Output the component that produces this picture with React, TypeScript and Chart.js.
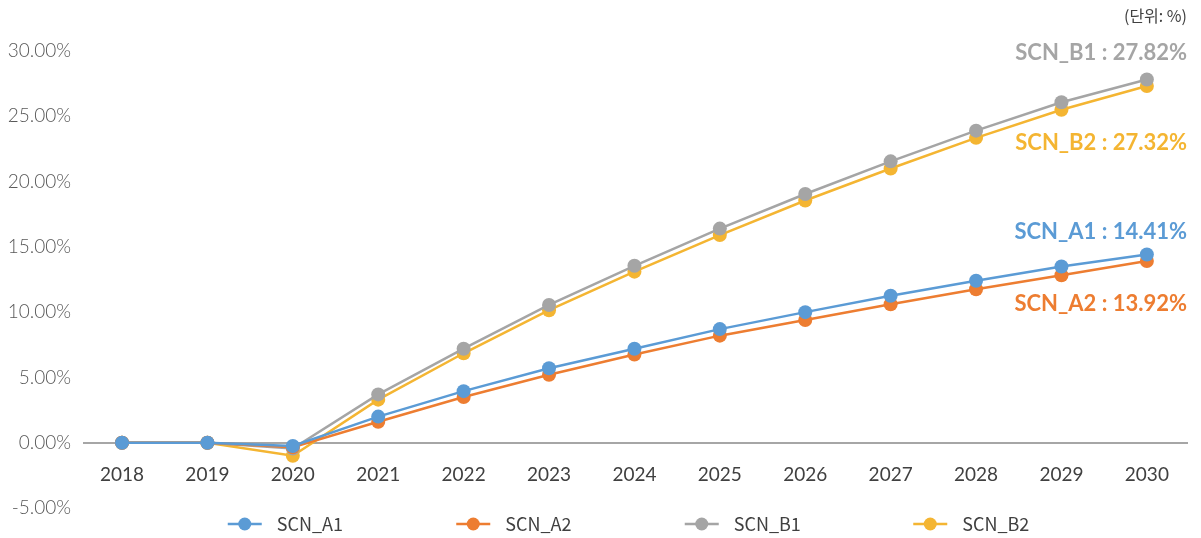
import { useEffect, useRef } from "react";
import { Chart, registerables } from "chart.js";

Chart.register(...registerables);

// Cumulative change by scenario (%), 2018–2030
const years = ["2018", "2019", "2020", "2021", "2022", "2023", "2024", "2025", "2026", "2027", "2028", "2029", "2030"];
const scnA1 = [0, 0, -0.25, 2.0, 3.95, 5.7, 7.2, 8.7, 10.0, 11.25, 12.4, 13.5, 14.41];
const scnA2 = [0, 0, -0.35, 1.6, 3.5, 5.2, 6.75, 8.2, 9.4, 10.6, 11.75, 12.83, 13.92];
const scnB1 = [0, 0, -0.45, 3.7, 7.2, 10.55, 13.55, 16.4, 19.05, 21.55, 23.9, 26.07, 27.82];
const scnB2 = [0, 0, -1.0, 3.3, 6.85, 10.15, 13.1, 15.9, 18.55, 21.0, 23.35, 25.5, 27.32];

const seriesNames = ["SCN_A1", "SCN_A2", "SCN_B1", "SCN_B2"];
const seriesColors = ["#5B9BD5", "#ED7D31", "#A5A5A5", "#F4B532"];
const seriesValues = [scnA1, scnA2, scnB1, scnB2];

const unitLabel = "(단위: %)";

// Right-side end-value callouts: series index and its vertical position
const calloutOrder = [2, 3, 0, 1];
const calloutY = [53, 143, 232, 304];

const W = 1201;
const H = 538;

const overlayPlugin = {
  id: "overlay",
  afterDraw(chart: Chart) {
    const ctx = chart.ctx;
    const area = chart.chartArea;
    ctx.save();

    // unit note
    ctx.font = '16px "Noto Sans CJK KR", Lato, sans-serif';
    ctx.fillStyle = "#404040";
    ctx.textAlign = "right";
    ctx.textBaseline = "middle";
    ctx.fillText(unitLabel, W - 14, 16);

    // end-value callouts
    ctx.font = 'bold 22px Lato, sans-serif';
    calloutOrder.forEach((si, k) => {
      const vals = seriesValues[si];
      const last = vals[vals.length - 1];
      ctx.fillStyle = seriesColors[si];
      ctx.fillText(`${seriesNames[si]} : ${last.toFixed(2)}%`, W - 14, calloutY[k]);
    });

    // legend
    const pitch = 228.5;
    const itemW = 118;
    const total = pitch * (seriesNames.length - 1) + itemW;
    const cx = (area.left + area.right) / 2;
    const x0 = cx - total / 2 - 6;
    const ly = 524;
    ctx.font = '18px "Noto Sans CJK KR", sans-serif';
    ctx.textAlign = "left";
    seriesNames.forEach((name, i) => {
      const x = x0 + i * pitch;
      ctx.strokeStyle = seriesColors[i];
      ctx.lineWidth = 2.5;
      ctx.beginPath();
      ctx.moveTo(x, ly);
      ctx.lineTo(x + 34, ly);
      ctx.stroke();
      ctx.fillStyle = seriesColors[i];
      ctx.beginPath();
      ctx.arc(x + 17, ly, 6.5, 0, Math.PI * 2);
      ctx.fill();
      ctx.fillStyle = "#404040";
      ctx.fillText(name, x + 49, ly);
    });

    ctx.restore();
  },
};

export default function App() {
  const canvasRef = useRef<HTMLCanvasElement | null>(null);

  useEffect(() => {
    document.body.style.margin = "0";
    const canvas = canvasRef.current;
    if (!canvas) return;

    const yearNums = years.map((y) => Number(y));

    const chart = new Chart(canvas, {
      type: "line",
      data: {
        datasets: seriesNames.map((name, i) => ({
          label: name,
          data: yearNums.map((x, k) => ({ x, y: seriesValues[i][k] })),
          borderColor: seriesColors[i],
          backgroundColor: seriesColors[i],
          borderWidth: 2.5,
          pointRadius: 7,
          pointHoverRadius: 7,
          pointBorderWidth: 0,
          tension: 0,
        })),
      },
      options: {
        responsive: false,
        animation: false,
        layout: { padding: { left: 8, right: 14, top: 51, bottom: 30 } },
        plugins: {
          legend: { display: false },
          tooltip: { enabled: false },
        },
        scales: {
          x: {
            type: "linear",
            bounds: "data",
            min: yearNums[0] - 0.445,
            max: yearNums[yearNums.length - 1] + 0.47,
            position: { y: 0 } as any,
            grid: { display: false, drawTicks: false },
            border: { display: true, color: "#A6A6A6", width: 2 },
            ticks: {
              color: "#404040",
              font: { family: "Lato", size: 19 },
              padding: 21,
              maxRotation: 0,
              autoSkip: false,
              callback: (v: any) => String(v),
            },
            afterBuildTicks(scale: any) {
              scale.ticks = yearNums.map((value) => ({ value }));
            },
            afterFit(scale: any) {
              scale.height = 0;
            },
          },
          y: {
            min: -5,
            max: 30,
            grid: { display: false, drawTicks: false },
            border: { display: false },
            ticks: {
              stepSize: 5,
              color: "#595959",
              font: { family: "Lato", size: 19, weight: 300 },
              padding: 13,
              callback: (v: any) => `${Number(v).toFixed(2)}%`,
            },
            afterFit(scale: any) {
              scale.width = 76;
            },
          },
        },
      },
      plugins: [overlayPlugin],
    });

    return () => chart.destroy();
  }, []);

  return (
    <div style={{ width: W, height: H }}>
      <canvas ref={canvasRef} width={W} height={H} style={{ display: "block" }} />
    </div>
  );
}
